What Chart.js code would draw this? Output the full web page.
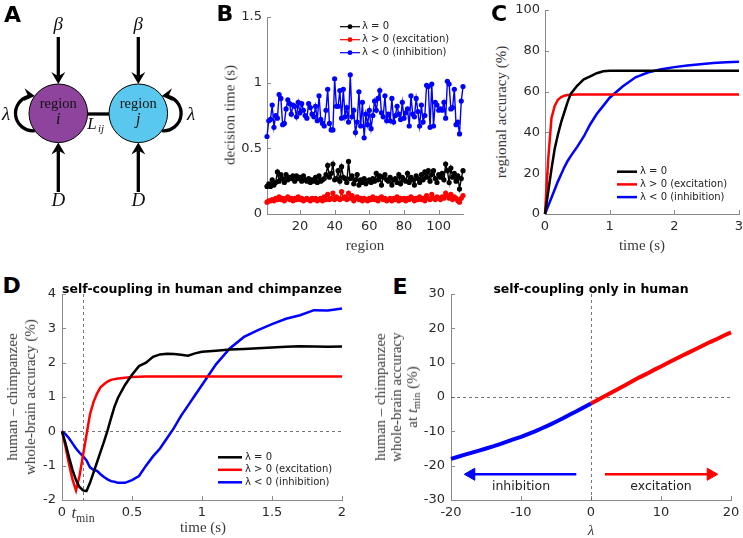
<!DOCTYPE html>
<html lang="en">
<head>
<meta charset="UTF-8">
<title>Self-coupling: decision time and accuracy</title>
<script src="https://cdn.jsdelivr.net/npm/chart.js"></script>
<style>
  html, body { margin: 0; background: #fff; overflow: hidden; }
  #fig { position: relative; width: 743px; height: 538px; }
  #fig canvas { position: absolute; }
  .lbl { position: absolute; transform: translate(-50%, -50%); white-space: nowrap; line-height: 1; }
  .letter { font: bold 22px 'DejaVu Sans', sans-serif; color: #000; }
  .ptitle { font: bold 12.5px 'DejaVu Sans', sans-serif; color: #000; }
  .ax { font: 15px 'Liberation Serif', serif; color: #3a3a3a; text-align: center; }
  .ax.v { transform: translate(-50%, -50%) rotate(-90deg); }
  .ax sub, .tmin sub { font-size: 70%; line-height: 0; vertical-align: -0.3em; font-style: normal; }
  .tmin { font: 17px 'Liberation Serif', serif; color: #3a3a3a; }
</style>
</head>
<body>
<div id="fig">
  <canvas id="diagram"></canvas>
  <canvas id="chartB"></canvas>
  <canvas id="chartC"></canvas>
  <canvas id="chartD"></canvas>
  <canvas id="chartE"></canvas>

  <div class="lbl letter" style="left:12.5px;top:14px">A</div>
  <div class="lbl letter" style="left:225px;top:12.5px">B</div>
  <div class="lbl letter" style="left:499px;top:13px">C</div>
  <div class="lbl letter" style="left:11.7px;top:285px">D</div>
  <div class="lbl letter" style="left:400px;top:285.5px">E</div>

  <div class="lbl ptitle" style="left:202px;top:287.5px">self-coupling in human and chimpanzee</div>
  <div class="lbl ptitle" style="left:591px;top:287.5px">self-coupling only in human</div>

  <div class="lbl ax v" style="left:230px;top:115px">decision time (s)</div>
  <div class="lbl ax" style="left:365px;top:245px">region</div>
  <div class="lbl ax v" style="left:501px;top:112px">regional accuracy (%)</div>
  <div class="lbl ax" style="left:642px;top:245px">time (s)</div>
  <div class="lbl ax v" style="left:21px;top:397px;line-height:18px">human – chimpanzee<br>whole-brain accuracy (%)</div>
  <div class="lbl ax" style="left:203px;top:527px">time (s)</div>
  <div class="lbl tmin" style="left:83px;top:513px"><i>t</i><sub>min</sub></div>
  <div class="lbl ax v" style="left:396px;top:397px;line-height:16px">human – chimpanzee<br>whole-brain accuracy<br>at <i>t</i><sub>min</sub> (%)</div>
  <div class="lbl ax" style="left:591px;top:530px"><i>λ</i></div>
</div>

<script>
// ---------- data ----------
const legendLabels = ['λ = 0', 'λ > 0 (excitation)', 'λ < 0 (inhibition)'];

// B: decision time per region
const bBlack = [
  0.21, 0.23, 0.21, 0.26, 0.22, 0.24, 0.32, 0.25, 0.30, 0.27,
  0.24, 0.30, 0.26, 0.28, 0.27, 0.29, 0.25, 0.29, 0.27, 0.28,
  0.25, 0.29, 0.26, 0.25, 0.27, 0.24, 0.26, 0.25, 0.28, 0.24,
  0.29, 0.25, 0.26, 0.27, 0.30, 0.37, 0.28, 0.31, 0.38, 0.26,
  0.27, 0.33, 0.25, 0.36, 0.28, 0.27, 0.24, 0.40, 0.27, 0.29,
  0.23, 0.26, 0.30, 0.22, 0.26, 0.24, 0.27, 0.23, 0.25, 0.26,
  0.24, 0.27, 0.25, 0.31, 0.26, 0.29, 0.22, 0.28, 0.30, 0.26,
  0.25, 0.28, 0.22, 0.26, 0.27, 0.24, 0.30, 0.23, 0.28, 0.26,
  0.25, 0.31, 0.24, 0.28, 0.26, 0.22, 0.29, 0.27, 0.24, 0.30,
  0.26, 0.32, 0.28, 0.33, 0.25, 0.30, 0.33, 0.27, 0.24, 0.30,
  0.28, 0.31, 0.26, 0.38, 0.33, 0.24, 0.35, 0.28, 0.31, 0.25,
  0.29, 0.19, 0.27, 0.33
];
const bRed = [
  0.09, 0.10, 0.10, 0.11, 0.10, 0.12, 0.11, 0.13, 0.11, 0.12,
  0.10, 0.12, 0.13, 0.11, 0.12, 0.10, 0.12, 0.11, 0.13, 0.11,
  0.12, 0.10, 0.11, 0.12, 0.11, 0.10, 0.12, 0.11, 0.12, 0.10,
  0.11, 0.12, 0.10, 0.13, 0.11, 0.15, 0.11, 0.12, 0.16, 0.11,
  0.13, 0.12, 0.11, 0.17, 0.12, 0.13, 0.11, 0.16, 0.12, 0.14,
  0.10, 0.12, 0.13, 0.11, 0.12, 0.10, 0.12, 0.11, 0.10, 0.12,
  0.11, 0.13, 0.11, 0.12, 0.10, 0.12, 0.13, 0.11, 0.12, 0.10,
  0.11, 0.12, 0.10, 0.12, 0.11, 0.13, 0.10, 0.12, 0.11, 0.12,
  0.10, 0.12, 0.11, 0.13, 0.12, 0.10, 0.12, 0.11, 0.13, 0.11,
  0.12, 0.10, 0.14, 0.12, 0.11, 0.15, 0.12, 0.11, 0.13, 0.12,
  0.11, 0.13, 0.12, 0.16, 0.14, 0.12, 0.15, 0.11, 0.13, 0.12,
  0.10, 0.09, 0.12, 0.14
];
const bBlue = [
  0.59, 0.71, 0.72, 0.83, 0.66, 0.75, 0.73, 0.91, 0.88, 0.68,
  0.69, 0.80, 0.87, 0.84, 0.76, 0.83, 0.82, 0.74, 0.85, 0.77,
  0.84, 0.79, 0.75, 0.73, 0.84, 0.81, 0.76, 0.74, 0.82, 0.71,
  0.90, 0.72, 0.69, 0.67, 0.79, 0.95, 0.69, 0.64, 0.64, 1.03,
  0.82, 0.82, 0.94, 0.73, 0.95, 0.74, 0.81, 0.70, 1.06, 0.74,
  0.79, 0.62, 0.70, 0.93, 0.67, 0.85, 0.58, 0.76, 0.68, 0.79,
  0.65, 0.75, 0.86, 0.79, 0.88, 0.94, 0.77, 0.74, 0.90, 0.71,
  0.76, 0.71, 0.88, 0.70, 0.75, 0.82, 0.76, 0.72, 0.85, 0.73,
  0.77, 0.80, 0.67, 0.90, 0.76, 0.74, 0.88, 0.78, 0.67, 0.83,
  0.70, 0.75, 0.98, 0.97, 0.66, 0.99, 0.67, 0.85, 0.83, 0.79,
  0.80, 0.79, 0.85, 0.73, 1.01, 0.99, 0.80, 0.81, 0.95, 0.68,
  0.70, 0.61, 0.86, 0.97
];
const bXTicks = [20, 40, 60, 80, 100];
const bYTicks = [0, 0.5, 1, 1.5];

// C: regional accuracy over time
const cTime  = [0, 0.05, 0.1, 0.15, 0.2, 0.25, 0.3, 0.35, 0.4, 0.5, 0.6, 0.7, 0.8, 0.9, 1.0, 1.2, 1.4, 1.6, 1.8, 2.0, 2.2, 2.4, 2.6, 2.8, 3.0];
const cBlack = [0, 11, 22, 32, 39, 45, 50, 55, 59, 63, 66, 67.5, 69, 70, 70.2, 70.2, 70.2, 70.2, 70.2, 70.2, 70.2, 70.2, 70.2, 70.2, 70.2];
const cRed   = [0, 27, 47, 53, 56, 57.3, 58, 58.3, 58.5, 58.6, 58.6, 58.6, 58.6, 58.6, 58.6, 58.6, 58.6, 58.6, 58.6, 58.6, 58.6, 58.6, 58.6, 58.6, 58.6];
const cBlue  = [0, 4, 8, 12, 16, 19.5, 23, 26, 28.5, 33, 38, 44, 49, 53, 57, 62.5, 67, 69.5, 71, 72, 72.8, 73.4, 74, 74.4, 74.6];
const cXTicks = [0, 1, 2, 3];
const cYTicks = [0, 20, 40, 60, 80, 100];

// D: human - chimpanzee whole-brain accuracy
const dTime  = [0, 0.025, 0.05, 0.075, 0.1, 0.125, 0.15, 0.175, 0.2, 0.225, 0.25, 0.275, 0.3, 0.325, 0.35, 0.375, 0.4, 0.45, 0.5, 0.55,
                0.6, 0.65, 0.7, 0.75, 0.8, 0.85, 0.9, 0.95, 1.0, 1.1, 1.2, 1.3, 1.4, 1.5, 1.6, 1.7, 1.8, 1.9, 2.0];
const dBlack = [0, -0.35, -0.75, -1.12, -1.42, -1.62, -1.72, -1.74, -1.5, -1.2, -0.9, -0.6, -0.3, 0.02, 0.38, 0.72, 0.98, 1.35, 1.65, 1.9,
                2.0, 2.17, 2.24, 2.26, 2.25, 2.23, 2.2, 2.27, 2.32, 2.35, 2.38, 2.4, 2.42, 2.44, 2.46, 2.48, 2.47, 2.46, 2.47];
const dRed   = [0, -0.45, -0.95, -1.4, -1.72, -1.3, -0.7, -0.1, 0.5, 0.85, 1.1, 1.28, 1.37, 1.45, 1.5, 1.52, 1.54, 1.56, 1.58, 1.59,
                1.6, 1.6, 1.6, 1.6, 1.6, 1.6, 1.6, 1.6, 1.6, 1.6, 1.6, 1.6, 1.6, 1.6, 1.6, 1.6, 1.6, 1.6, 1.6];
const dBlue  = [0, -0.08, -0.2, -0.35, -0.5, -0.62, -0.72, -0.85, -1.05, -1.12, -1.15, -1.25, -1.33, -1.4, -1.45, -1.47, -1.5, -1.5, -1.42, -1.3,
                -1.0, -0.73, -0.5, -0.2, 0.1, 0.45, 0.75, 1.05, 1.35, 1.95, 2.42, 2.75, 2.95, 3.12, 3.28, 3.38, 3.53, 3.52, 3.58];
const dXTicks = [0, 0.5, 1, 1.5, 2];
const dYTicks = [-2, -1, 0, 1, 2, 3, 4];
const tMin = 0.15;

// E: difference at t_min against lambda
const eLambdaNeg = [-20, -19, -18, -17, -16, -15, -14, -13, -12, -11, -10, -9, -8, -7, -6, -5, -4, -3, -2, -1, 0];
const eNeg = [-18.0, -17.4, -16.8, -16.2, -15.6, -15.0, -14.4, -13.7, -13.0, -12.3, -11.6, -10.8, -10.0, -9.1, -8.2, -7.2, -6.2, -5.1, -4.1, -3.0, -1.9];
const eLambdaPos = [0, 1, 2, 3, 4, 5, 6, 7, 8, 9, 10, 11, 12, 13, 14, 15, 16, 17, 18, 19, 20];
const ePos = [-1.9, -0.8, 0.3, 1.4, 2.5, 3.6, 4.7, 5.8, 6.8, 7.9, 8.9, 10.0, 11.0, 12.0, 13.0, 14.0, 15.0, 16.0, 16.9, 17.9, 18.8];
const eXTicks = [-20, -10, 0, 10, 20];
const eYTicks = [-30, -20, -10, 0, 10, 20, 30];
const inhibArrowX = [-2.1, -17.1];
const exciteArrowX = [2.0, 17.1];
const arrowY = -22.5;
const eNotes = ['inhibition', 'excitation'];

// ---------- styling ----------
const AXIS = '#8a8a8a';
const TICK_FONT = { family: 'DejaVu Sans', size: 13 };
const TICK_COLOR = '#2a2a2a';
const BLACK = '#000000', RED = '#ff0000', BLUE = '#0000ff';

const pts = (xs, ys) => xs.map((x, i) => ({ x, y: ys[i] }));

// MATLAB style ticks pointing into the plot
const inTicks = {
  id: 'inTicks',
  beforeDatasetsDraw(chart) {
    const { ctx, chartArea: a, scales: { x, y } } = chart;
    ctx.save();
    ctx.strokeStyle = AXIS;
    ctx.lineWidth = 1;
    ctx.beginPath();
    x.ticks.forEach(t => {
      const p = Math.round(x.getPixelForValue(t.value)) + 0.5;
      ctx.moveTo(p, a.bottom); ctx.lineTo(p, a.bottom - 4);
    });
    y.ticks.forEach(t => {
      const p = Math.round(y.getPixelForValue(t.value)) + 0.5;
      ctx.moveTo(a.left, p); ctx.lineTo(a.left + 4, p);
    });
    ctx.stroke();
    ctx.restore();
  }
};

// dashed zero / t_min lines
const refLines = {
  id: 'refLines',
  beforeDatasetsDraw(chart, args, o) {
    if (!o.x && !o.y) return;
    const { ctx, chartArea: a, scales } = chart;
    ctx.save();
    ctx.strokeStyle = '#555';
    ctx.lineWidth = 0.8;
    ctx.setLineDash([3, 3]);
    (o.x || []).forEach(v => {
      const p = Math.round(scales.x.getPixelForValue(v)) + 0.5;
      ctx.beginPath(); ctx.moveTo(p, a.top); ctx.lineTo(p, a.bottom); ctx.stroke();
    });
    (o.y || []).forEach(v => {
      const p = Math.round(scales.y.getPixelForValue(v)) + 0.5;
      ctx.beginPath(); ctx.moveTo(a.left, p); ctx.lineTo(a.right, p); ctx.stroke();
    });
    ctx.restore();
  }
};

// small legend drawn inside the axes
const lineLegend = {
  id: 'lineLegend',
  afterDatasetsDraw(chart, args, o) {
    if (o.x1 === undefined) return;
    const { ctx } = chart;
    ctx.save();
    ctx.font = '10px "DejaVu Sans"';
    ctx.textBaseline = 'middle';
    let row = 0;
    chart.data.datasets.forEach(ds => {
      if (!ds.label) return;
      const y = o.y + row * o.rowH;
      row++;
      ctx.strokeStyle = ds.borderColor;
      ctx.lineWidth = o.lw;
      ctx.beginPath(); ctx.moveTo(o.x1, y); ctx.lineTo(o.x2, y); ctx.stroke();
      if (o.dot) {
        ctx.fillStyle = ds.borderColor;
        ctx.beginPath(); ctx.arc((o.x1 + o.x2) / 2, y, o.dot, 0, Math.PI * 2); ctx.fill();
      }
      ctx.fillStyle = '#222';
      ctx.fillText(ds.label, o.x2 + o.gap, y);
    });
    ctx.restore();
  }
};

// text placed at data coordinates
const dataText = {
  id: 'dataText',
  afterDatasetsDraw(chart, args, o) {
    if (!o.items) return;
    const { ctx, scales: { x, y } } = chart;
    ctx.save();
    ctx.font = '12.5px "DejaVu Sans"';
    ctx.fillStyle = '#222';
    ctx.textAlign = 'center';
    ctx.textBaseline = 'middle';
    o.items.forEach(it => ctx.fillText(it.text, x.getPixelForValue(it.x), y.getPixelForValue(it.y)));
    ctx.restore();
  }
};

function panel(id, box, area, datasets, sc, plug) {
  const cv = document.getElementById(id);
  cv.width = box.w; cv.height = box.h;
  cv.style.left = box.x + 'px'; cv.style.top = box.y + 'px';

  const axis = (ticks, min, max, pos, pad) => ({
    type: 'linear', position: pos, min, max,
    afterBuildTicks: s => { s.ticks = ticks.map(v => ({ value: v })); },
    afterFit: s => {
      if (pos === 'left') { s.width = area.l - box.x; s.paddingTop = 0; s.paddingBottom = 0; }
      else { s.height = box.y + box.h - area.b; s.paddingLeft = 0; s.paddingRight = 0; }
    },
    grid: { display: false, drawTicks: false },
    border: { color: AXIS, width: 1 },
    ticks: {
      font: TICK_FONT, color: TICK_COLOR, padding: pad, maxRotation: 0, autoSkip: false,
      callback: v => String(v)
    }
  });

  return new Chart(cv, {
    type: 'line',
    data: { datasets },
    options: {
      responsive: false,
      animation: false,
      devicePixelRatio: 1,
      layout: {
        autoPadding: false,
        padding: { left: 0, bottom: 0, top: area.t - box.y, right: box.x + box.w - area.r }
      },
      scales: {
        x: axis(sc.xt, sc.x0, sc.x1, 'bottom', 5),
        y: axis(sc.yt, sc.y0, sc.y1, 'left', sc.ypad || 5)
      },
      plugins: Object.assign({ legend: { display: false }, tooltip: { enabled: false } }, plug)
    },
    plugins: [inTicks, refLines, lineLegend, dataText]
  });
}

const curve = (label, color, data, width) => ({
  label, data, borderColor: color, backgroundColor: color,
  borderWidth: width, pointRadius: 0, tension: 0, clip: 3
});

// ---------- B ----------
const regions = bBlue.map((_, i) => i + 1);
const dotted = (label, color, ys) => ({
  label, data: pts(regions, ys), borderColor: color, backgroundColor: color,
  borderWidth: 1.4, pointRadius: 2.6, pointBorderWidth: 0, pointBackgroundColor: color, tension: 0, clip: 6
});
panel('chartB', { x: 236, y: 0, w: 234, h: 240 }, { l: 267, t: 17, r: 463, b: 214 },
  [dotted(legendLabels[0], BLACK, bBlack), dotted(legendLabels[1], RED, bRed), dotted(legendLabels[2], BLUE, bBlue)],
  { xt: bXTicks, x0: 1, x1: 114, yt: bYTicks, y0: 0, y1: 1.5 },
  { lineLegend: { x1: 104, x2: 124, gap: 2, y: 26.7, rowH: 13, lw: 1.2, dot: 2.4 } });

// ---------- C ----------
panel('chartC', { x: 515, y: 0, w: 228, h: 240 }, { l: 545, t: 10, r: 739, b: 214 },
  [curve(legendLabels[0], BLACK, pts(cTime, cBlack), 2.5),
   curve(legendLabels[1], RED, pts(cTime, cRed), 2.5),
   curve(legendLabels[2], BLUE, pts(cTime, cBlue), 2.5)],
  { xt: cXTicks, x0: 0, x1: 3, yt: cYTicks, y0: 0, y1: 100 },
  { lineLegend: { x1: 102, x2: 122, gap: 3, y: 171.7, rowH: 12.7, lw: 2.5 } });

// ---------- D ----------
panel('chartD', { x: 36, y: 285, w: 312, h: 253 }, { l: 62, t: 294, r: 342, b: 500 },
  [curve(legendLabels[0], BLACK, pts(dTime, dBlack), 2.5),
   curve(legendLabels[1], RED, pts(dTime, dRed), 2.5),
   curve(legendLabels[2], BLUE, pts(dTime, dBlue), 2.5)],
  { xt: dXTicks, x0: 0, x1: 2, yt: dYTicks, y0: -2, y1: 4, ypad: 6 },
  { refLines: { x: [tMin], y: [0] },
    lineLegend: { x1: 182, x2: 206, gap: 3, y: 172.3, rowH: 12.5, lw: 2.5 } });

// ---------- E ----------
const arrow = (color, xs, rot) => ({
  data: pts(xs, [arrowY, arrowY]), borderColor: color, backgroundColor: color,
  borderWidth: 2.5, pointRadius: [0, 7], pointStyle: 'triangle', pointRotation: rot,
  pointBorderWidth: 1, pointBorderColor: color, pointBackgroundColor: color, tension: 0, clip: false
});
panel('chartE', { x: 412, y: 285, w: 331, h: 253 }, { l: 451, t: 294, r: 731, b: 500 },
  [curve('', BLUE, pts(eLambdaNeg, eNeg), 4),
   curve('', RED, pts(eLambdaPos, ePos), 4),
   arrow(BLUE, inhibArrowX, 270),
   arrow(RED, exciteArrowX, 90)],
  { xt: eXTicks, x0: -20, x1: 20, yt: eYTicks, y0: -30, y1: 30, ypad: 6 },
  { refLines: { x: [0], y: [0] },
    dataText: { items: [{ text: eNotes[0], x: -10, y: -26.2 }, { text: eNotes[1], x: 10, y: -26.2 }] } });

// ---------- A: two-region diagram ----------
(function drawDiagram() {
  const cv = document.getElementById('diagram');
  cv.width = 215; cv.height = 240;
  cv.style.left = '0px'; cv.style.top = '0px';
  const ctx = cv.getContext('2d');
  const deg = d => d * Math.PI / 180;
  const cy = 113.3, r = 29.3, loopR = 17.5;
  const nodes = [
    { x: 58.3, fill: '#8e449c', name: 'i', side: -1 },
    { x: 138.3, fill: '#5ac8ee', name: 'j', side: 1 }
  ];

  const head = (x, y, ang, len = 12, half = 7) => {
    ctx.save(); ctx.translate(x, y); ctx.rotate(ang);
    ctx.beginPath();
    ctx.moveTo(0, 0); ctx.lineTo(-len, -half); ctx.lineTo(-len * 0.65, 0); ctx.lineTo(-len, half);
    ctx.closePath(); ctx.fill(); ctx.restore();
  };
  const seg = (x1, y1, x2, y2) => { ctx.beginPath(); ctx.moveTo(x1, y1); ctx.lineTo(x2, y2); ctx.stroke(); };

  ctx.strokeStyle = '#000'; ctx.fillStyle = '#000';
  ctx.lineWidth = 3.3;
  seg(nodes[0].x + r, 114, nodes[1].x - r, 114);

  nodes.forEach(n => {
    ctx.beginPath(); ctx.arc(n.x, cy, r, 0, Math.PI * 2);
    ctx.fillStyle = n.fill; ctx.fill();
    ctx.lineWidth = 1; ctx.strokeStyle = '#000'; ctx.stroke();
  });

  ctx.fillStyle = '#000'; ctx.strokeStyle = '#000';
  nodes.forEach(n => {
    ctx.lineWidth = 3.3;
    seg(n.x, 37, n.x, cy - r - 8); head(n.x, cy - r, Math.PI / 2);
    seg(n.x, 192, n.x, cy + r + 8); head(n.x, cy + r, -Math.PI / 2);
    const lx = n.x + n.side * 25.3;
    ctx.beginPath();
    if (n.side < 0) ctx.arc(lx, cy, loopR, deg(84), deg(255), false);
    else ctx.arc(lx, cy, loopR, deg(96), deg(-75), true);
    ctx.stroke();
    const ta = n.side < 0 ? deg(276) : deg(-96);
    head(lx + loopR * Math.cos(ta), cy + loopR * Math.sin(ta), n.side < 0 ? deg(6) : deg(174), 11, 6.5);
  });

  ctx.textAlign = 'center'; ctx.textBaseline = 'middle'; ctx.fillStyle = '#111';
  nodes.forEach(n => {
    ctx.font = 'italic 19px "Liberation Serif"';
    ctx.fillText('β', n.x, 25);
    ctx.fillText('D', n.x, 201);
    ctx.font = '14.5px "Liberation Serif"';
    ctx.fillText('region', n.x, 104);
    ctx.font = 'italic 16px "Liberation Serif"';
    ctx.fillText(n.name, n.x, 120);
  });
  ctx.font = 'italic 19px "Liberation Serif"';
  ctx.fillText('λ', 6, 115);
  ctx.fillText('λ', 191, 115);
  ctx.font = 'italic 17px "Liberation Serif"';
  ctx.fillText('L', 92, 125);
  ctx.font = 'italic 11px "Liberation Serif"';
  ctx.fillText('ij', 101, 129.5);
})();
</script>
</body>
</html>
